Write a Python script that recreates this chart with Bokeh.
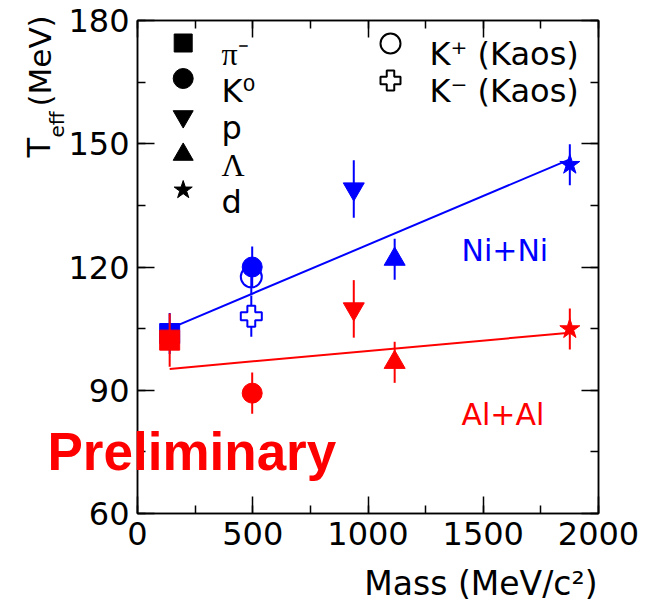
from bokeh.plotting import figure
from bokeh.models import Range1d, LinearAxis, SingleIntervalTicker, Label, Title
from bokeh.embed import file_html
from bokeh.resources import INLINE

# ---------------- data ----------------
particles = ["pi-", "K0", "p", "Lambda", "d"]
mass = [139.6, 497.6, 938.3, 1115.7, 1875.6]
markers = ["square", "circle", "inverted_triangle", "triangle", "star"]

ni_teff = [103.8, 120.0, 139.0, 121.9, 144.9]
ni_err = [5.0, 5.0, 7.0, 5.0, 5.0]
al_teff = [102.2, 89.3, 109.8, 96.8, 104.9]
al_err = [6.5, 5.0, 7.0, 5.0, 5.0]

kaos_labels = ["K+", "K-"]
kaos_mass = [493.7, 493.7]
kaos_teff = [117.6, 108.0]
kaos_err = [4.5, 5.0]

fit_mass = [139.6, 1875.6]
ni_fit = [105.0, 146.2]
al_fit = [95.2, 104.0]

x_ticks = [0, 500, 1000, 1500, 2000]
y_ticks = [60, 90, 120, 150, 180]

BLUE = "#0000ff"
RED = "#ff0000"
FONT = "DejaVu Sans"

W, H = 655, 614
L, R, T, B = 137, 57, 20, 101
X0, X1, Y0, Y1 = 0, 2000, 60, 180
FW, FH = W - L - R, H - T - B


def px_x(px):
    return X0 + (px - L) / FW * (X1 - X0)


def px_y(py):
    return Y1 - (py - T) / FH * (Y1 - Y0)


p = figure(frame_width=FW, frame_height=FH, output_backend="svg", toolbar_location=None,
           x_range=Range1d(X0, X1), y_range=Range1d(Y0, Y1),
           min_border_left=L, min_border_right=R, min_border_top=T, min_border_bottom=B,
           x_axis_location=None, y_axis_location=None)
p.xgrid.visible = False
p.ygrid.visible = False
p.outline_line_color = "black"
p.outline_line_width = 1.5
p.background_fill_color = "white"
p.border_fill_color = "white"


def make_axis(interval, ticks, show_labels, size):
    ax = LinearAxis(ticker=SingleIntervalTicker(interval=interval, num_minor_ticks=2))
    ax.major_tick_in = 17
    ax.major_tick_out = 0
    ax.minor_tick_in = 8
    ax.minor_tick_out = 0
    ax.axis_line_width = 1.5
    ax.major_tick_line_width = 1.5
    ax.minor_tick_line_width = 1.5
    ax.axis_line_color = "black"
    ax.major_tick_line_color = "black"
    ax.minor_tick_line_color = "black"
    if show_labels:
        ax.major_label_text_font = FONT
        ax.major_label_text_font_size = size
        ax.major_label_text_color = "black"
    else:
        ax.major_label_overrides = {t: "" for t in ticks}
        ax.major_label_standoff = 0
    return ax


xb = make_axis(500, x_ticks, True, "32px")
xb.major_label_standoff = 8
yl = make_axis(30, y_ticks, True, "32px")
yl.major_label_standoff = 8
p.add_layout(xb, "below")
p.add_layout(yl, "left")
p.add_layout(make_axis(500, x_ticks, False, "0px"), "above")
p.add_layout(make_axis(30, y_ticks, False, "0px"), "right")

# ---------------- Ni+Ni (blue) ----------------
p.line(fit_mass, ni_fit, line_color=BLUE, line_width=2)
p.segment(x0=mass, y0=[v - e for v, e in zip(ni_teff, ni_err)],
          x1=mass, y1=[v + e for v, e in zip(ni_teff, ni_err)],
          line_color=BLUE, line_width=2)
p.segment(x0=kaos_mass, y0=[v - e for v, e in zip(kaos_teff, kaos_err)],
          x1=kaos_mass, y1=[v + e for v, e in zip(kaos_teff, kaos_err)],
          line_color=BLUE, line_width=2)
sizes = [20, 20, 21, 21, 21]
for m, v, mk, s in zip(mass, ni_teff, markers, sizes):
    p.scatter([m], [v], marker=mk, size=s, fill_color=BLUE, line_color=BLUE)
p.scatter([kaos_mass[0]], [kaos_teff[0]], marker="circle", size=21,
          fill_alpha=0, line_color=BLUE, line_width=2)
p.scatter([kaos_mass[1]], [kaos_teff[1]], marker="plus", size=21,
          fill_color="white", line_color=BLUE, line_width=2)

# ---------------- Al+Al (red) ----------------
p.line(fit_mass, al_fit, line_color=RED, line_width=2)
p.segment(x0=mass, y0=[v - e for v, e in zip(al_teff, al_err)],
          x1=mass, y1=[v + e for v, e in zip(al_teff, al_err)],
          line_color=RED, line_width=2)
for m, v, mk, s in zip(mass, al_teff, markers, sizes):
    p.scatter([m], [v], marker=mk, size=s, fill_color=RED, line_color=RED)

# ---------------- legend (drawn by hand) ----------------
leg_texts = ["π⁻", "K⁰", "p", "Λ", "d"]
leg_fonts = ["Liberation Serif", FONT, FONT, "Liberation Serif", FONT]
leg_marker_py = [42.5, 78, 116, 154, 189.5]
leg_text_py = [53, 90, 127, 164, 201]
leg_sizes = [18, 20, 20, 20, 19]
for mk, s, py in zip(markers, leg_sizes, leg_marker_py):
    p.scatter([px_x(182.7)], [px_y(py)], marker=mk, size=s,
              fill_color="black", line_color="black")
for txt, f, py in zip(leg_texts, leg_fonts, leg_text_py):
    p.add_layout(Label(x=px_x(221), y=px_y(py), text=txt, text_font=f,
                       text_font_size="32px", text_color="black",
                       text_baseline="alphabetic", text_align="left"))

kaos_leg = ["K⁺ (Kaos)", "K⁻ (Kaos)"]
p.scatter([px_x(390)], [px_y(43)], marker="circle", size=20, fill_alpha=0,
          line_color="black", line_width=2)
p.scatter([px_x(390)], [px_y(80)], marker="plus", size=20, fill_color="white",
          line_color="black", line_width=2)
for txt, py in zip(kaos_leg, [53, 90]):
    p.add_layout(Label(x=px_x(429), y=px_y(py), text=txt, text_font=FONT,
                       text_font_size="32px", text_color="black",
                       text_baseline="alphabetic", text_align="left"))

# ---------------- annotations ----------------
p.add_layout(Label(x=px_x(461), y=px_y(267), text="Ni+Ni", text_font=FONT,
                   text_font_size="30px", text_color=BLUE))
p.add_layout(Label(x=px_x(461), y=px_y(431), text="Al+Al", text_font=FONT,
                   text_font_size="30px", text_color=RED))

# axis titles (labels in side panels are not clipped by the frame)
p.add_layout(Label(x=px_x(597), y=px_y(602), text="Mass (MeV/c²)", text_font=FONT,
                   text_font_size="33px", text_color="black", text_align="right"), "below")
p.add_layout(Label(x=px_x(57), y=px_y(157), text="T", text_font=FONT, angle=90,
                   angle_units="deg", text_font_size="32px", text_color="black"), "right")
p.add_layout(Label(x=px_x(68), y=px_y(137), text="eff", text_font=FONT, angle=90,
                   angle_units="deg", text_font_size="20px", text_color="black"), "left")
p.add_layout(Label(x=px_x(57), y=px_y(106), text="(MeV)", text_font=FONT, angle=90,
                   angle_units="deg", text_font_size="31px", text_color="black"), "left")

# "Preliminary" stamp as a title pulled up into the plot area
p.add_layout(Title(text="Preliminary", text_font="Liberation Sans", text_font_style="bold",
                   text_font_size="53px", text_color=RED, align="left",
                   vertical_align="top", offset=47 - L, standoff=-329), "below")

open("out.html", "w").write(file_html(p, INLINE))
